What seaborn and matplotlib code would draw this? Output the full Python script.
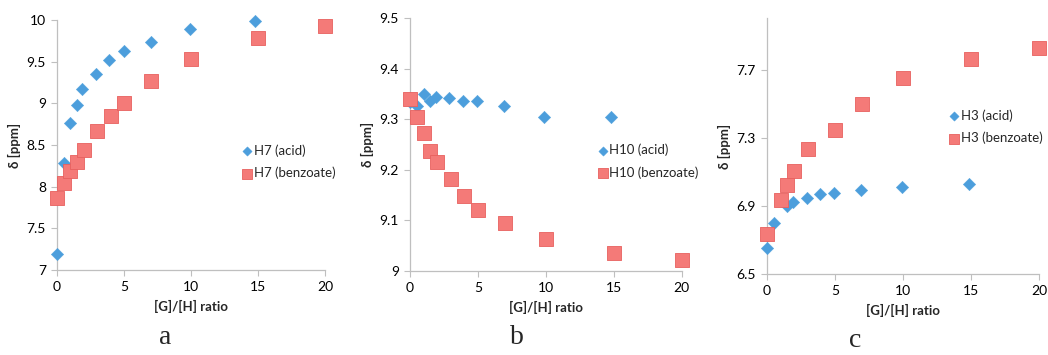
import numpy as np
import pandas as pd
import matplotlib
matplotlib.use("Agg")
import matplotlib.pyplot as plt
import seaborn as sns

# panel a: H7
a_x_acid = [0, 0.5, 1, 1.5, 1.9, 2.9, 3.9, 5, 7, 9.9, 14.8]
a_acid = [7.19, 8.29, 8.76, 8.98, 9.17, 9.35, 9.52, 9.63, 9.73, 9.89, 9.99]
a_x_benz = [0, 0.5, 1, 1.5, 2, 3, 4, 5, 7, 10, 15, 20]
a_benz = [7.87, 8.05, 8.19, 8.30, 8.44, 8.67, 8.85, 9.00, 9.27, 9.53, 9.78, 9.93]

# panel b: H10
b_x_acid = [0, 0.5, 1, 1.5, 1.9, 2.9, 3.9, 4.9, 6.9, 9.9, 14.8]
b_acid = [9.335, 9.326, 9.349, 9.336, 9.344, 9.343, 9.337, 9.336, 9.326, 9.304, 9.305]
b_x_benz = [0, 0.5, 1, 1.5, 2, 3, 4, 5, 7, 10, 15, 20]
b_benz = [9.340, 9.305, 9.273, 9.238, 9.216, 9.181, 9.149, 9.120, 9.094, 9.063, 9.036, 9.022]

# panel c: H3
c_x_acid = [0, 0.5, 1.5, 1.9, 2.9, 3.9, 4.9, 6.9, 9.9, 14.8]
c_acid = [6.654, 6.797, 6.899, 6.920, 6.948, 6.967, 6.977, 6.992, 7.012, 7.031]
c_x_benz = [0, 1, 1.5, 2, 3, 5, 7, 10, 15, 20]
c_benz = [6.733, 6.932, 7.022, 7.104, 7.231, 7.344, 7.499, 7.653, 7.764, 7.829]

sns.set_theme(style="white")
plt.rcParams['font.family'] = ['Lato', 'DejaVu Sans']

blue = "#4C9EDC"
red = "#F47A78"

panels = [
    dict(proton="H7", xa=a_x_acid, ya=a_acid, xb=a_x_benz, yb=a_benz,
         ylim=(7, 10), yticks=[7, 7.5, 8, 8.5, 9, 9.5, 10],
         pos=[0.0544, 0.2394, 0.2557, 0.7043], leg=(0.66, 0.53), letter="a", lx=0.158, ly=0.03),
    dict(proton="H10", xa=b_x_acid, ya=b_acid, xb=b_x_benz, yb=b_benz,
         ylim=(9, 9.5), yticks=[9, 9.1, 9.2, 9.3, 9.4, 9.5],
         pos=[0.3912, 0.2366, 0.2593, 0.7124], leg=(0.66, 0.53), letter="b", lx=0.493, ly=0.03),
    dict(proton="H3", xa=c_x_acid, ya=c_acid, xb=c_x_benz, yb=c_benz,
         ylim=(6.5, 8.0), yticks=[6.5, 6.9, 7.3, 7.7],
         pos=[0.7319, 0.2282, 0.2598, 0.7200], leg=(0.64, 0.67), letter="c", lx=0.816, ly=0.022),
]

fig = plt.figure(figsize=(10.48, 3.55), dpi=100)
for p in panels:
    ax = fig.add_axes(p["pos"])
    df_a = pd.DataFrame({"x": p["xa"], "y": p["ya"]})
    df_b = pd.DataFrame({"x": p["xb"], "y": p["yb"]})
    sns.scatterplot(x="x", y="y", data=df_a, marker="D", s=40, color=blue,
                    edgecolor=blue, linewidth=0.3, ax=ax, label="%s (acid)" % p["proton"], zorder=3)
    sns.scatterplot(x="x", y="y", data=df_b, marker="s", s=95, color=red,
                    edgecolor="#E8605E", linewidth=0.6, ax=ax, label="%s (benzoate)" % p["proton"], zorder=4)
    ax.set_xlim(0, 20)
    ax.set_ylim(*p["ylim"])
    ax.set_xticks([0, 5, 10, 15, 20])
    ax.set_yticks(p["yticks"])
    ax.set_yticklabels(["%g" % v for v in p["yticks"]])
    for s in ["top", "right"]:
        ax.spines[s].set_visible(False)
    for s in ["left", "bottom"]:
        ax.spines[s].set_color("#BFBFBF")
        ax.spines[s].set_linewidth(0.9)
    ax.tick_params(axis="both", direction="out", length=4, width=0.8, color="#BFBFBF",
                   labelsize=10, labelcolor="black", left=True, bottom=True, pad=4)
    ax.set_xlabel("[G]/[H] ratio", fontsize=9.5, fontweight="bold", labelpad=5)
    ax.set_ylabel("δ [ppm]", fontsize=9.5, fontweight="bold", labelpad=4)
    for m in ax.collections:
        m.set_clip_on(False)
    leg = ax.legend(loc="upper left", bbox_to_anchor=p["leg"], frameon=False, fontsize=9.5,
                    handletextpad=0.0, labelspacing=0.75, borderpad=0, handlelength=1.0,
                    markerscale=0.75)
    fig.text(p["lx"], p["ly"], p["letter"], fontsize=20, family="Liberation Serif", ha="center")

fig.savefig("out.png", dpi=100)
